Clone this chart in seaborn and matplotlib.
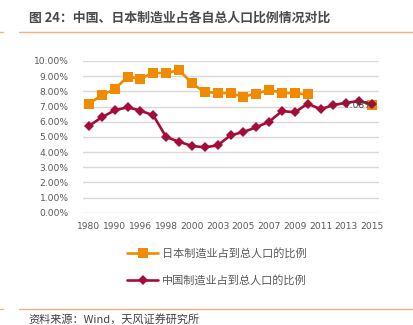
import numpy as np
import pandas as pd
import matplotlib
matplotlib.use("Agg")
import matplotlib.pyplot as plt
from matplotlib.lines import Line2D
import seaborn as sns

sns.set_theme(style="white")
plt.rcParams["font.family"] = ["Noto Sans CJK SC", "DejaVu Sans"]

# Category axis (one label on every second category)
years = ["1980", "1985", "1990", "1995", "1996", "1997", "1998", "1999", "2000",
         "2001", "2003", "2004", "2005", "2006", "2007", "2008", "2009", "2010",
         "2011", "2012", "2013", "2014", "2015"]

# Share of manufacturing employment in total population (%)
japan = [7.17, 7.76, 8.13, 8.97, 8.83, 9.23, 9.19, 9.41, 8.53, 7.94, 7.91, 7.87,
         7.65, 7.85, 8.09, 7.91, 7.87, 7.80, np.nan, np.nan, np.nan, np.nan, 7.08]
china = [5.72, 6.29, 6.75, 6.95, 6.73, 6.42, 4.99, 4.68, 4.40, 4.31, 4.44, 5.10,
         5.32, 5.63, 6.00, 6.70, 6.62, 7.19, 6.82, 7.10, 7.25, 7.36, 7.14]

japan_label = "日本制造业占到总人口的比例"
china_label = "中国制造业占到总人口的比例"
title = "图 24：中国、日本制造业占各自总人口比例情况对比"
source = "资料来源：Wind，天风证券研究所"

ORANGE = "#F08A00"
CRIMSON = "#A30D38"
GRID = "#D9D9D9"
TXT = "#595959"
RULE = "#F4B183"

# Long-form tables; a segment id keeps the gap in the Japanese series
jp = pd.DataFrame({"x": np.arange(len(years)), "v": np.array(japan) / 100})
jp["seg"] = np.isnan(jp["v"]).cumsum()
jp = jp.dropna()
cn = pd.DataFrame({"x": np.arange(len(years)), "v": np.array(china) / 100, "seg": 0})

W, H = 413, 325
fig = plt.figure(figsize=(W / 100, H / 100), dpi=100)
ax = fig.add_axes([82.5 / W, (H - 212.7) / H, (378.5 - 82.5) / W, (212.7 - 61) / H])

sns.lineplot(data=jp, x="x", y="v", units="seg", estimator=None, ax=ax,
             color=ORANGE, lw=1.9, marker="s", markersize=7.6,
             markeredgewidth=0, legend=False, zorder=3)
sns.lineplot(data=cn, x="x", y="v", units="seg", estimator=None, ax=ax,
             color=CRIMSON, lw=1.9, marker="D", markersize=5.6,
             markeredgewidth=0, legend=False, zorder=4)

ax.set_xlim(-0.5, len(years) - 0.5)
ax.set_ylim(0, 0.10)
ax.set_yticks(np.arange(0, 0.1001, 0.01))
ax.set_yticklabels([f"{t * 100:.2f}%" for t in ax.get_yticks()])
ax.set_xticks(np.arange(0, len(years), 2))
ax.set_xticklabels(years[::2])
ax.set_xlabel("")
ax.set_ylabel("")
ax.grid(axis="y", color=GRID, lw=1.0)
ax.grid(axis="x", visible=False)
for s in ax.spines.values():
    s.set_visible(False)
ax.tick_params(axis="both", length=0, labelsize=6.6, labelcolor=TXT)
ax.tick_params(axis="y", pad=10)
ax.tick_params(axis="x", pad=7)
for lab in ax.get_xticklabels() + ax.get_yticklabels():
    lab.set_fontfamily("DejaVu Sans")

# Value label on the last Japanese point
ax.annotate(f"{japan[-1]:.2f}%", xy=(len(years) - 1, japan[-1] / 100),
            xytext=(1, 0), textcoords="offset points", ha="right", va="center",
            fontsize=6.6, color="#404040", family="DejaVu Sans", zorder=5)

handles = [
    Line2D([], [], color=ORANGE, lw=1.9, marker="s", markersize=7.6, markeredgewidth=0),
    Line2D([], [], color=CRIMSON, lw=1.9, marker="D", markersize=5.6, markeredgewidth=0),
]
fig.legend(handles, [japan_label, china_label], loc="upper left",
           bbox_to_anchor=(127 / W, 1 - 248.5 / H), frameon=False,
           fontsize=8, labelcolor=TXT, handlelength=2.8, handletextpad=0.35,
           labelspacing=1.4, borderpad=0, borderaxespad=0)

# Header and footer
fig.text(29 / W, 1 - 18 / H, title, fontsize=9.3, fontweight="bold",
         color="#4a4a4a", ha="left", va="center")
fig.add_artist(Line2D([19 / W, 1], [1 - 31.5 / H] * 2, color=RULE, lw=1.0))
fig.add_artist(Line2D([0, 3 / W], [1 - 31.5 / H] * 2, color=RULE, lw=1.0))
fig.add_artist(Line2D([19 / W, 1], [1 - 309 / H] * 2, color=RULE, lw=1.0))
fig.add_artist(Line2D([0, 3 / W], [1 - 309 / H] * 2, color=RULE, lw=1.0))
fig.text(28 / W, 1 - 319 / H, source, fontsize=8, color="#404040",
         ha="left", va="center")

fig.savefig("out.png", dpi=100)
